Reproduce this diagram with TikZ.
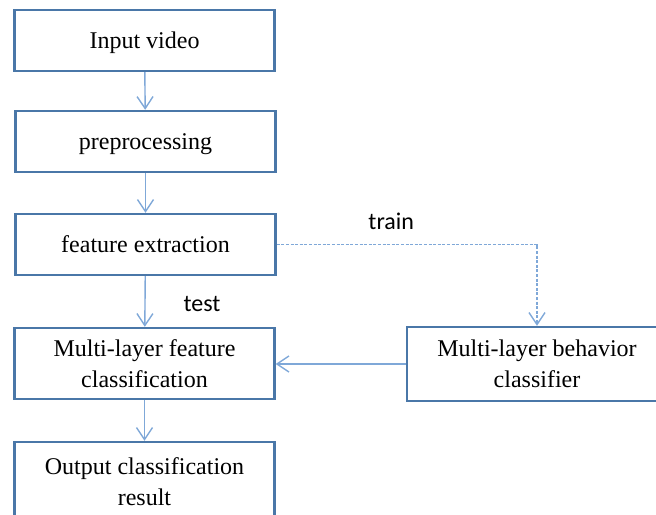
\documentclass[tikz,border=0pt]{standalone}
\usepackage{fontspec}
\setmainfont{Liberation Serif}
\newfontfamily\labelfont{Carlito}
\usepackage{tikz}
\usetikzlibrary{positioning,arrows.meta}
\definecolor{boxblue}{HTML}{4A77A8}
\definecolor{arrowblue}{HTML}{7FA8D8}

\begin{document}
\begin{tikzpicture}[x=0.5pt,y=-0.5pt,
  box/.style={draw=boxblue,line width=1.2pt,minimum width=130pt,align=center,
    font=\rmfamily\fontsize{12}{15.5}\selectfont,inner sep=0pt,text depth=0pt},
  flow/.style={draw=arrowblue,line width=0.7pt,
    -{Straight Barb[length=6pt,width=8pt,line width=0.7pt]}},
  trainline/.style={flow,dash pattern=on 1.5pt off 0.8pt},
  tag/.style={font=\labelfont\fontsize{12}{14}\selectfont}]
\useasboundingbox (0,0) rectangle (656,514);

\node[box,minimum height=30.5pt] (input) at (144.5,40.5) {Input video};
\node[box,minimum height=30.5pt] (prep) at (145.5,141.5) {preprocessing};
\node[box,minimum height=30.5pt] (feat) at (145.5,244.5) {feature extraction};
\node[box,minimum height=35.5pt] (mlfc) at (144.5,363.5) {Multi-layer feature\\classification};
\node[box,minimum height=40pt] (out) at (144.5,482) {Output classification\\result};
\node[box,minimum height=37pt] (behav) at (537,364) {Multi-layer behavior\\classifier};

% main chain
\draw[flow] (input) -- (prep);
\draw[flow] (prep) -- (feat);
\draw[flow] (feat) -- node[tag,xshift=28.5pt,yshift=-1pt]{test} (mlfc);
\draw[flow] (mlfc) -- (out);

% training branch
\draw[trainline] (feat.east) -| node[tag,pos=0.22,yshift=11.5pt]{train} (behav.north);
\draw[flow] (behav.west) -- (behav.west -| mlfc.east);
\end{tikzpicture}
\end{document}
